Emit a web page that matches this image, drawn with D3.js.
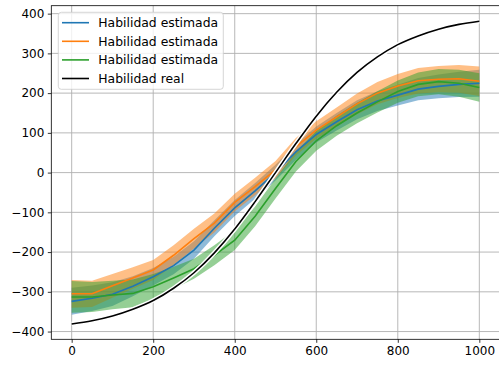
<!DOCTYPE html>
<html><head><meta charset="utf-8">
<script src="https://cdn.jsdelivr.net/npm/d3@7"></script>
<style>html,body{margin:0;padding:0;background:#fff;}svg{display:block;}</style>
</head><body>
<script>
// ---- data ----
const xs = [0,50,100,150,200,250,300,350,400,450,500,550,600,650,700,750,800,850,900,950,1000];
const realSkill = [-381,-373,-361,-344,-322,-291,-252,-202,-142,-73,0,73,142,202,252,291,322,344,361,373,381];
const blueMean = [-324,-316,-306,-286,-262,-234,-195,-140,-89,-46,0,52,96,128,158,180,195,210,217,222,225];
const blueSd   = [34,32,30,25,22,22,22,20,20,20,20,20,20,22,24,25,26,28,30,32,34];
const orangeMean = [-305,-305,-285,-265,-245,-208,-166,-127,-75,-35,7,65,107,140,173,200,218,231,235,236,230];
const orangeSd   = [35,33,30,27,25,25,25,24,22,22,22,22,22,24,26,28,30,32,33,35,37];
const greenMean = [-313,-313,-308,-304,-287,-265,-242,-208,-170,-110,-40,28,80,118,150,178,204,222,229,225,214];
const greenSd   = [40,38,36,35,32,28,25,25,25,25,25,25,25,25,26,27,28,30,32,34,36];
const xTicks = [0,200,400,600,800,1000];
const yTicks = [-400,-300,-200,-100,0,100,200,300,400];
const labels = ["Habilidad estimada","Habilidad estimada","Habilidad estimada","Habilidad real"];

const W = 499, H = 365;
const svg = d3.select("body").append("svg").attr("width", W).attr("height", H)
  .style("font-family", "'DejaVu Sans', sans-serif");

const x = d3.scaleLinear().domain([-50, 1050]).range([51.3, 499.7]);
const y = d3.scaleLinear().domain([-419.5, 420]).range([339.3, 5.7]);

// grid
const g = svg.append("g");
g.selectAll(".gx").data(xTicks).enter().append("line")
  .attr("x1", d => x(d)).attr("x2", d => x(d)).attr("y1", y(420)).attr("y2", y(-419.5))
  .attr("stroke", "#b0b0b0").attr("stroke-width", 0.9);
g.selectAll(".gy").data(yTicks).enter().append("line")
  .attr("x1", x(-50)).attr("x2", x(1050)).attr("y1", d => y(d)).attr("y2", d => y(d))
  .attr("stroke", "#b0b0b0").attr("stroke-width", 0.9);

const series = [
  {mean: blueMean, sd: blueSd, color: "#1f77b4"},
  {mean: orangeMean, sd: orangeSd, color: "#ff7f0e"},
  {mean: greenMean, sd: greenSd, color: "#2ca02c"}
];

const area = d3.area().x(d => x(d.x)).y0(d => y(d.lo)).y1(d => y(d.hi));
const line = d3.line().x(d => x(d.x)).y(d => y(d.v));

series.forEach(s => {
  const pts = xs.map((xv, i) => ({x: xv, lo: s.mean[i] - s.sd[i], hi: s.mean[i] + s.sd[i]}));
  svg.append("path").attr("d", area(pts)).attr("fill", s.color).attr("fill-opacity", 0.5).attr("stroke", "none");
});
series.forEach(s => {
  const pts = xs.map((xv, i) => ({x: xv, v: s.mean[i]}));
  svg.append("path").attr("d", line(pts)).attr("fill", "none").attr("stroke", s.color).attr("stroke-width", 1.6);
});
const realPts = xs.map((xv, i) => ({x: xv, v: realSkill[i]}));
const smooth = d3.line().x(d => x(d.x)).y(d => y(d.v)).curve(d3.curveMonotoneX);
svg.append("path").attr("d", smooth(realPts)).attr("fill", "none").attr("stroke", "#fff").attr("stroke-width", 4.5);
svg.append("path").attr("d", smooth(realPts)).attr("fill", "none").attr("stroke", "#000").attr("stroke-width", 1.6);

// axes
const xAxis = d3.axisBottom(x).tickValues(xTicks).tickSize(3.5).tickPadding(3.5).tickFormat(d3.format("d"));
const yAxis = d3.axisLeft(y).tickValues(yTicks).tickSize(3.5).tickPadding(3.5).tickFormat(d => d < 0 ? "\u2212" + Math.abs(d) : String(d));
const ax = svg.append("g").attr("transform", `translate(0,${y(-419.5)})`).call(xAxis);
const ay = svg.append("g").attr("transform", `translate(${x(-50)},0)`).call(yAxis);
[ax, ay].forEach(a => {
  a.select(".domain").remove();
  a.selectAll("line").attr("stroke", "#000").attr("stroke-width", 0.8);
  a.selectAll("text").attr("fill", "#000").style("font-size", "12px").style("font-family", "'DejaVu Sans', sans-serif");
});
// spines
svg.append("rect").attr("x", x(-50)).attr("y", y(420)).attr("width", x(1050) - x(-50)).attr("height", y(-419.5) - y(420))
  .attr("fill", "none").attr("stroke", "#000").attr("stroke-width", 0.8);

// legend
const lg = svg.append("g");
lg.append("rect").attr("x", 58.3).attr("y", 12.3).attr("width", 165).attr("height", 77).attr("rx", 3)
  .attr("fill", "#fff").attr("fill-opacity", 0.8).attr("stroke", "#cccccc").attr("stroke-width", 0.8);
const legColors = ["#1f77b4", "#ff7f0e", "#2ca02c", "#000"];
labels.forEach((t, i) => {
  const cy = 22.7 + i * 18.6;
  lg.append("line").attr("x1", 62).attr("x2", 89).attr("y1", cy).attr("y2", cy)
    .attr("stroke", legColors[i]).attr("stroke-width", 1.6);
  lg.append("text").attr("x", 98.3).attr("y", cy).attr("dy", "0.36em").text(t)
    .style("font-size", "12.4px").attr("fill", "#000");
});
</script>
</body></html>
